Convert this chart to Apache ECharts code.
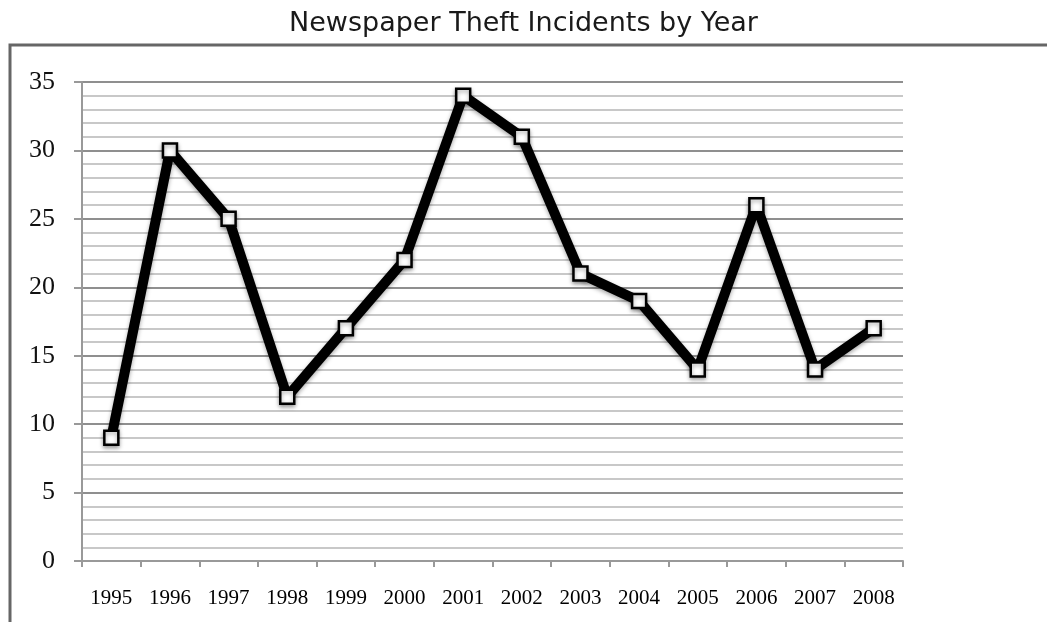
<!DOCTYPE html>
<html>
<head>
<meta charset="utf-8">
<script src="https://cdn.jsdelivr.net/npm/echarts@6/dist/echarts.min.js"></script>
<style>html,body{margin:0;padding:0;background:#fff}#c{width:1047px;height:622px}</style>
</head>
<body>
<div id="c"></div>
<script>
const titleText = 'Newspaper Theft Incidents by Year';
const years = ['1995','1996','1997','1998','1999','2000','2001','2002','2003','2004','2005','2006','2007','2008'];
const incidents = [9, 30, 25, 12, 17, 22, 34, 31, 21, 19, 14, 26, 14, 17];

const chart = echarts.init(document.getElementById('c'), null, {renderer: 'canvas'});
chart.setOption({
  backgroundColor: '#fff',
  animation: false,
  title: {
    text: titleText, left: 'center', top: 5,
    textStyle: {fontFamily: 'DejaVu Sans', fontSize: 27, fontWeight: 'normal', color: '#1a1a1a'}
  },
  graphic: [
    {type: 'polyline', shape: {points: [[10, 640], [10, 45], [1060, 45]]}, style: {stroke: '#666', lineWidth: 3, fill: null}}
  ],
  grid: {left: 82, right: 144, top: 82, bottom: 61, containLabel: false},
  xAxis: {
    type: 'category', data: years, boundaryGap: true,
    axisLine: {lineStyle: {color: '#999', width: 2}},
    axisTick: {show: true, length: 6, inside: false, lineStyle: {color: '#999', width: 2}},
    axisLabel: {fontFamily: 'Liberation Serif', fontSize: 21, color: '#000', margin: 27},
    splitLine: {show: false}
  },
  yAxis: {
    type: 'value', min: 0, max: 35, interval: 5,
    axisLine: {show: true, lineStyle: {color: '#999', width: 2}},
    axisTick: {show: true, length: 8, lineStyle: {color: '#999', width: 2}},
    axisLabel: {fontFamily: 'Liberation Serif', fontSize: 26, color: '#111', margin: 27},
    splitLine: {show: true, lineStyle: {color: '#8f8f8f', width: 2}},
    minorTick: {show: false, splitNumber: 5},
    minorSplitLine: {show: true, lineStyle: {color: '#c8c8c8', width: 2}}
  },
  series: [{
    type: 'line', data: incidents,
    lineStyle: {color: '#000', width: 10, shadowColor: 'rgba(0,0,0,0.35)', shadowBlur: 4, shadowOffsetY: 2},
    symbol: 'rect', symbolSize: 14,
    itemStyle: {color: '#fff', borderColor: '#000', borderWidth: 2.5, shadowColor: 'rgba(0,0,0,0.35)', shadowBlur: 4, shadowOffsetY: 2},
    z: 5
  }]
});
</script>
</body>
</html>
